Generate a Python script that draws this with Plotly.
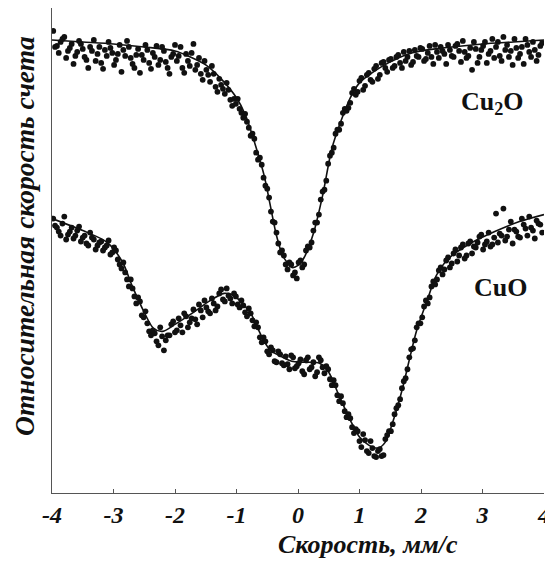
import plotly.graph_objects as go

# ---------------- data (relative count rate, arbitrary units) ----------------
tick_vals = [-4, -3, -2, -1, 0, 1, 2, 3, 4]
tick_text = ["-4", "-3", "-2", "-1", "0", "1", "2", "3", "4"]

# Cu2O fitted curve
cu2o_fit_x = [-4.0, -3.5, -3.0, -2.5, -2.0, -1.75, -1.5, -1.25, -1.0, -0.85, -0.7, -0.55,
              -0.45, -0.35, -0.25, -0.15, -0.1, 0.0, 0.1, 0.25, 0.4, 0.55, 0.7, 0.85,
              1.0, 1.25, 1.5, 1.75, 2.0, 2.5, 3.0, 3.5, 4.0]
cu2o_fit_y = [454, 452, 450, 447, 443, 437, 429, 415, 396, 378, 350, 318,
              288, 258, 238, 229, 226, 228, 236, 260, 298, 345, 373, 396,
              411, 423, 432, 439, 443, 447, 450, 452, 454]

# measured velocity channels (two interleaved sweeps)
vel_a = [-3.98, -3.92, -3.86, -3.80, -3.74, -3.68, -3.62, -3.56, -3.50, -3.44, -3.38, -3.32,
         -3.26, -3.20, -3.14, -3.08, -3.02, -2.96, -2.90, -2.84, -2.78, -2.72, -2.66, -2.60,
         -2.54, -2.48, -2.42, -2.36, -2.30, -2.24, -2.18, -2.12, -2.06, -2.00, -1.94, -1.88,
         -1.82, -1.76, -1.70, -1.64, -1.58, -1.52, -1.46, -1.40, -1.34, -1.28, -1.22, -1.16,
         -1.10, -1.04, -0.98, -0.92, -0.86, -0.80, -0.74, -0.68, -0.62, -0.56, -0.50, -0.44,
         -0.38, -0.32, -0.26, -0.20, -0.14, -0.08, -0.02, 0.04, 0.10, 0.16, 0.22, 0.28,
         0.34, 0.40, 0.46, 0.52, 0.58, 0.64, 0.70, 0.76, 0.82, 0.88, 0.94, 1.00,
         1.06, 1.12, 1.18, 1.24, 1.30, 1.36, 1.42, 1.48, 1.54, 1.60, 1.66, 1.72,
         1.78, 1.84, 1.90, 1.96, 2.02, 2.08, 2.14, 2.20, 2.26, 2.32, 2.38, 2.44,
         2.50, 2.56, 2.62, 2.68, 2.74, 2.80, 2.86, 2.92, 2.98, 3.04, 3.10, 3.16,
         3.22, 3.28, 3.34, 3.40, 3.46, 3.52, 3.58, 3.64, 3.70, 3.76, 3.82, 3.88, 3.94]
vel_b = [-3.95, -3.89, -3.83, -3.77, -3.71, -3.65, -3.59, -3.53, -3.47, -3.41, -3.35, -3.29,
         -3.23, -3.17, -3.11, -3.05, -2.99, -2.93, -2.87, -2.81, -2.75, -2.69, -2.63, -2.57,
         -2.51, -2.45, -2.39, -2.33, -2.27, -2.21, -2.15, -2.09, -2.03, -1.97, -1.91, -1.85,
         -1.79, -1.73, -1.67, -1.61, -1.55, -1.49, -1.43, -1.37, -1.31, -1.25, -1.19, -1.13,
         -1.07, -1.01, -0.95, -0.89, -0.83, -0.77, -0.71, -0.65, -0.59, -0.53, -0.47, -0.41,
         -0.35, -0.29, -0.23, -0.17, -0.11, -0.05, 0.01, 0.07, 0.13, 0.19, 0.25, 0.31,
         0.37, 0.43, 0.49, 0.55, 0.61, 0.67, 0.73, 0.79, 0.85, 0.91, 0.97, 1.03,
         1.09, 1.15, 1.21, 1.27, 1.33, 1.39, 1.45, 1.51, 1.57, 1.63, 1.69, 1.75,
         1.81, 1.87, 1.93, 1.99, 2.05, 2.11, 2.17, 2.23, 2.29, 2.35, 2.41, 2.47,
         2.53, 2.59, 2.65, 2.71, 2.77, 2.83, 2.89, 2.95, 3.01, 3.07, 3.13, 3.19,
         3.25, 3.31, 3.37, 3.43, 3.49, 3.55, 3.61, 3.67, 3.73, 3.79, 3.85, 3.91, 3.97]

# Cu2O measured points
cu2o_a = [463, 448, 452, 457, 443, 450, 438, 453, 445, 434, 447, 454,
          440, 431, 444, 452, 441, 434, 449, 444, 453, 436, 426, 445,
          439, 449, 431, 441, 448, 434, 443, 426, 437, 449, 438, 426,
          440, 428, 450, 429, 420, 433, 419, 428, 407, 415, 405, 411,
          394, 395, 395, 381, 380, 366, 360, 341, 336, 316, 305, 282,
          271, 250, 243, 229, 231, 218, 215, 233, 229, 247, 251, 271,
          279, 302, 313, 338, 346, 364, 370, 385, 386, 401, 399, 413,
          404, 419, 414, 425, 415, 431, 426, 434, 426, 437, 431, 442,
          437, 429, 444, 437, 445, 435, 448, 430, 442, 447, 440, 449,
          438, 448, 443, 453, 436, 446, 452, 431, 444, 452, 440, 455,
          447, 438, 457, 449, 443, 455, 436, 447, 455, 442, 452, 433, 448]
cu2o_b = [447, 441, 455, 436, 446, 430, 442, 450, 437, 426, 443, 433,
          447, 425, 438, 446, 429, 440, 422, 438, 447, 430, 439, 421,
          434, 444, 425, 437, 429, 447, 432, 420, 440, 433, 447, 421,
          433, 441, 424, 436, 414, 424, 412, 420, 402, 409, 400, 404,
          388, 390, 385, 376, 372, 358, 355, 334, 329, 308, 296, 272,
          261, 241, 238, 224, 229, 221, 231, 226, 243, 246, 263, 271,
          294, 304, 330, 341, 360, 364, 381, 383, 391, 405, 402, 416,
          408, 421, 412, 428, 419, 432, 422, 435, 428, 439, 426, 433,
          443, 432, 438, 446, 433, 441, 437, 449, 436, 443, 430, 444,
          437, 450, 432, 442, 438, 424, 445, 437, 448, 431, 443, 436,
          452, 433, 444, 437, 429, 446, 440, 430, 449, 437, 444, 439, 451]

# CuO fitted curve
cuo_fit_x = [-4.0, -3.5, -3.1, -2.85, -2.7, -2.5, -2.35, -2.2, -2.0, -1.7, -1.45, -1.2,
             -1.05, -0.9, -0.75, -0.6, -0.45, -0.25, -0.1, 0.1, 0.35, 0.5, 0.65, 0.85,
             1.0, 1.15, 1.3, 1.42, 1.55, 1.7, 1.82, 1.93, 2.1, 2.25, 2.45, 2.8,
             3.2, 3.6, 4.0]
cuo_fit_y = [275, 263, 251, 231, 208, 181, 165, 162, 169, 181, 192, 200,
             198, 190, 178, 158, 143, 136, 132, 131, 130, 121, 100, 73,
             56, 48, 45, 51, 73, 105, 136, 163, 193, 218, 235, 250,
             262, 272, 279]

# CuO measured points
cuo_a = [275, 266, 258, 277, 259, 266, 258, 267, 256, 250, 261, 254,
         248, 252, 246, 253, 241, 243, 229, 231, 214, 214, 197, 196,
         178, 182, 162, 163, 152, 166, 143, 158, 169, 161, 175, 161,
         177, 171, 184, 169, 183, 193, 182, 195, 183, 200, 194, 205,
         195, 200, 189, 193, 181, 185, 173, 171, 156, 156, 142, 146,
         132, 142, 130, 137, 124, 136, 127, 134, 119, 136, 126, 117,
         136, 126, 127, 114, 113, 98, 97, 82, 79, 66, 64, 52,
         59, 42, 52, 37, 42, 37, 54, 62, 69, 85, 94, 112,
         124, 144, 153, 170, 176, 193, 196, 212, 214, 226, 224, 236,
         230, 244, 238, 249, 238, 252, 247, 251, 259, 249, 261, 249,
         280, 260, 285, 257, 272, 264, 257, 275, 265, 277, 263, 273, 269]
cuo_b = [268, 262, 270, 254, 262, 255, 263, 252, 258, 248, 256, 244,
         251, 243, 248, 239, 246, 234, 225, 221, 207, 205, 190, 192,
         176, 170, 158, 160, 148, 157, 153, 158, 172, 163, 168, 180,
         166, 175, 174, 189, 176, 186, 180, 190, 187, 204, 192, 198,
         190, 197, 186, 188, 177, 180, 167, 166, 151, 152, 139, 143,
         131, 139, 128, 129, 138, 125, 130, 122, 133, 124, 131, 121,
         133, 120, 124, 108, 108, 92, 90, 76, 75, 60, 62, 46,
         53, 40, 45, 36, 44, 38, 58, 62, 79, 88, 105, 115,
         136, 145, 166, 170, 187, 190, 207, 209, 223, 219, 233, 226,
         240, 232, 246, 235, 250, 240, 246, 257, 244, 252, 247, 256,
         251, 258, 253, 264, 250, 262, 256, 269, 258, 266, 255, 270, 261]

# ---------------- figure ----------------
SERIF = "Liberation Serif"
INK = "#111111"
AXIS = "#555555"
bi_font = dict(family=SERIF, size=26, style="italic", weight="bold", color=INK)
b_font = dict(family=SERIF, size=26, weight="bold", color=INK)

fig = go.Figure()
for vx, vy in [(vel_a, cu2o_a), (vel_b, cu2o_b), (vel_a, cuo_a), (vel_b, cuo_b)]:
    fig.add_trace(go.Scatter(x=vx, y=vy, mode="markers",
                             marker=dict(size=5.8, color=INK, line=dict(width=0)),
                             showlegend=False, hoverinfo="x+y"))
for fx, fy in [(cu2o_fit_x, cu2o_fit_y), (cuo_fit_x, cuo_fit_y)]:
    fig.add_trace(go.Scatter(x=fx, y=fy, mode="lines",
                             line=dict(color=INK, width=1.6, shape="spline", smoothing=0.8),
                             showlegend=False, hoverinfo="skip"))

# the page body has an 8px default margin; the figure is sized to fill the window from there
fig.update_layout(
    width=545, height=558,
    margin=dict(l=44, r=9, t=0, b=73, pad=0),
    paper_bgcolor="white", plot_bgcolor="white",
    xaxis=dict(range=[-4, 4], tickvals=tick_vals, ticktext=tick_text,
               showline=True, linecolor=AXIS, linewidth=1.2,
               ticks="inside", ticklen=4, tickcolor=AXIS,
               showgrid=False, zeroline=False,
               tickfont=dict(family=SERIF, size=24, style="italic", weight="bold", color=INK)),
    yaxis=dict(range=[0, 486], showline=True, linecolor=AXIS, linewidth=1.2,
               showticklabels=False, ticks="", showgrid=False, zeroline=False),
    annotations=[
        dict(text="Скорость, мм/с", xref="paper", yref="paper", x=0.642, y=-0.107,
             xanchor="center", yanchor="middle", showarrow=False, font=bi_font),
        dict(text="Относительная скорость счета", xref="paper", yref="paper",
             x=-0.055, y=0.530, textangle=-90, xanchor="center", yanchor="middle",
             showarrow=False, font=dict(bi_font, size=27.5)),
        dict(text="Cu<sub>2</sub>O", xref="x", yref="y", x=3.17, y=391,
             showarrow=False, xanchor="center", yanchor="middle", font=b_font),
        dict(text="CuO", xref="x", yref="y", x=3.29, y=206,
             showarrow=False, xanchor="center", yanchor="middle", font=b_font),
    ],
)

fig.write_html("out.html")
